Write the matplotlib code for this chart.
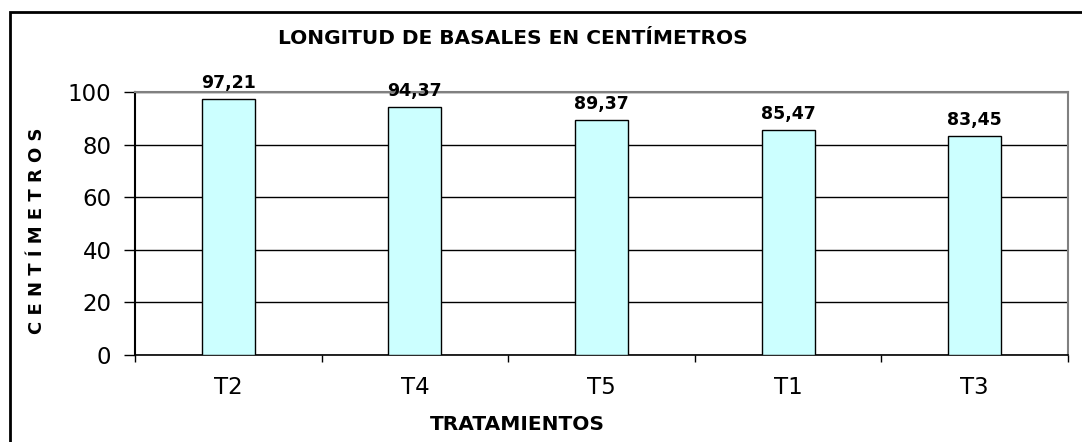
import numpy as np
import matplotlib.pyplot as plt
from matplotlib.patches import Rectangle

# data
tratamientos = ['T2', 'T4', 'T5', 'T1', 'T3']
longitud = [97.21, 94.37, 89.37, 85.47, 83.45]
yticks = [0, 20, 40, 60, 80, 100]

plt.rcParams['font.family'] = ['DejaVu Sans']

W, H = 1082, 442
fig = plt.figure(figsize=(W/100, H/100), dpi=100)
ax = fig.add_axes([135/W, 1-355/H, 933/W, 263/H])

x = np.arange(len(tratamientos))
bars = ax.bar(x, longitud, width=0.285, color='#CCFFFF', edgecolor='black', linewidth=1, zorder=3)
for b, v in zip(bars, longitud):
    ax.annotate('{:.2f}'.format(v).replace('.', ','), (b.get_x()+b.get_width()/2, v),
                xytext=(0, 5), textcoords='offset points', ha='center', va='bottom',
                fontsize=12.5, fontweight='bold')

ax.set_xlim(-0.5, len(tratamientos)-0.5)
ax.set_ylim(0, 100)
ax.set_yticks(yticks)
ax.yaxis.grid(True, color='black', linewidth=1, zorder=0)
ax.tick_params(axis='y', length=8, width=1, labelsize=16.5, pad=9)

# ticks at category boundaries, labels at centres
ax.set_xticks(np.arange(len(tratamientos)+1)-0.5)
ax.set_xticklabels([])
ax.set_xticks(x, minor=True)
ax.set_xticklabels(tratamientos, minor=True)
ax.tick_params(axis='x', which='major', length=5, width=1)
ax.tick_params(axis='x', which='minor', length=0, labelsize=16.5, pad=15)

for s in ['top', 'right']:
    ax.spines[s].set_color('#808080')
    ax.spines[s].set_linewidth(1.5)
ax.spines['left'].set_linewidth(1.5)
ax.spines['bottom'].set_linewidth(1.2)

fig.text(513/W, 1-39/H, 'LONGITUD DE BASALES EN CENTÍMETROS', ha='center', va='center',
         fontsize=14.5, fontweight='bold')
fig.text(517/W, 1-425/H, 'TRATAMIENTOS', ha='center', va='center', fontsize=14.5, fontweight='bold')
fig.text(37/W, 1-231/H, 'C E N T Í M E T R O S', ha='center', va='center', rotation=90,
         fontsize=13, fontweight='bold')

# outer chart border (cut off at right and bottom)
fig.patches.append(Rectangle((10/W, -0.1), 1.2, 1-12/H+0.1, transform=fig.transFigure,
                             fill=False, edgecolor='black', linewidth=2))

fig.savefig('out.png', dpi=100)
